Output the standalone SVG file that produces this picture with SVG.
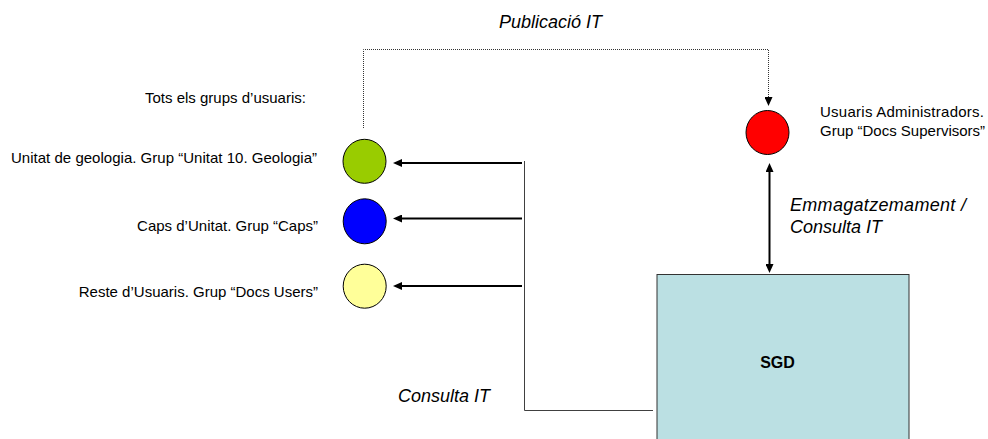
<svg xmlns="http://www.w3.org/2000/svg" width="988" height="439" viewBox="0 0 988 439">
<style>
  text { font-family: "Liberation Sans", Arial, sans-serif; fill: #000; }
  .lbl { font-size: 15px; }
  .it { font-size: 18px; font-style: italic; }
  .node { stroke: #000; stroke-width: 1; }
  .arrow { stroke: #000; stroke-width: 2; fill: none; }
  .thin { stroke: #404040; stroke-width: 1; fill: none; }
  .dot { stroke: #333; stroke-width: 1; stroke-dasharray: 1 1; fill: none; }
</style>
<defs>
  <marker id="ah" markerUnits="userSpaceOnUse" viewBox="0 0 9 8" markerWidth="9" markerHeight="8" refX="5" refY="4" orient="auto-start-reverse">
    <path d="M0,0 L9,4 L0,8 z" fill="#000"/>
  </marker>
</defs>
<rect width="988" height="439" fill="#fff"/>

<g id="connectors">
  <path class="dot" d="M363.5,128 V49.5 H768.5 V102"/>
  <path class="dot" d="M768.5,60 V102" stroke-width="1.5"/>
  <path d="M768.5,98 V102" stroke="#000" stroke-width="1" marker-end="url(#ah)"/>
  <line class="arrow" x1="522" y1="163" x2="397" y2="163" marker-end="url(#ah)"/>
  <line class="arrow" x1="522" y1="218.5" x2="397" y2="218.5" marker-end="url(#ah)"/>
  <line class="arrow" x1="522" y1="286" x2="397" y2="286" marker-end="url(#ah)"/>
  <path class="thin" d="M524.5,161 V410.5 H653"/>
  <line class="arrow" x1="769.5" y1="167" x2="769.5" y2="269" marker-start="url(#ah)" marker-end="url(#ah)"/>
  <text class="it" x="550.5" y="28" text-anchor="middle">Publicació IT</text>
  <text class="it" x="790" y="211" textLength="176" lengthAdjust="spacing">Emmagatzemament /</text>
  <text class="it" x="790" y="233">Consulta IT</text>
  <text class="it" x="398" y="402">Consulta IT</text>
</g>

<g id="all-groups-label">
  <text class="lbl" x="145" y="103">Tots els grups d’usuaris:</text>
</g>

<g id="node-geologia">
  <ellipse class="node" cx="364.5" cy="161.3" rx="21.5" ry="22" fill="#99CC00"/>
  <text class="lbl" x="11" y="163" textLength="306" lengthAdjust="spacing">Unitat de geologia. Grup “Unitat 10. Geologia”</text>
</g>

<g id="node-caps">
  <ellipse class="node" cx="364.7" cy="221.3" rx="21.5" ry="22.5" fill="#0000FF"/>
  <text class="lbl" x="318" y="231" text-anchor="end">Caps d’Unitat. Grup “Caps”</text>
</g>

<g id="node-users">
  <ellipse class="node" cx="364.7" cy="286.2" rx="21.5" ry="22" fill="#FFFF99"/>
  <text class="lbl" x="318" y="297" text-anchor="end">Reste d’Usuaris. Grup “Docs Users”</text>
</g>

<g id="node-admin">
  <ellipse class="node" cx="767.5" cy="132.5" rx="21.5" ry="22" fill="#FF0000"/>
  <text class="lbl" x="820" y="117" textLength="164" lengthAdjust="spacing">Usuaris Administradors.</text>
  <text class="lbl" x="820" y="136">Grup “Docs Supervisors”</text>
</g>

<g id="node-sgd">
  <rect x="657" y="274.5" width="252" height="175" fill="#BBE0E3" stroke="#333" stroke-width="1"/>
  <text x="777.5" y="368" text-anchor="middle" font-size="16" font-weight="bold">SGD</text>
</g>
</svg>
